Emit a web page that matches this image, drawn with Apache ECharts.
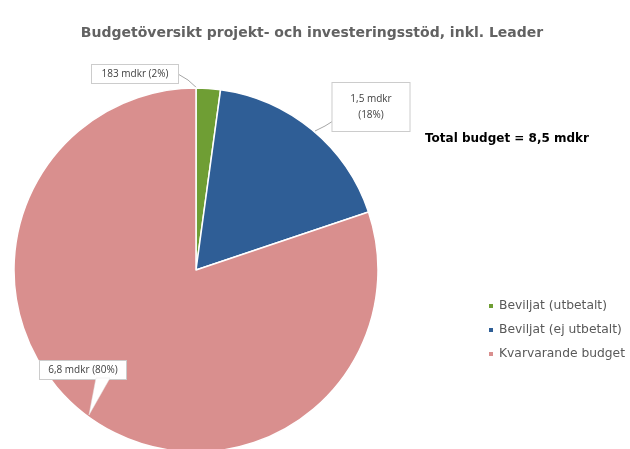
<!DOCTYPE html>
<html><head><meta charset="utf-8">
<script src="https://cdn.jsdelivr.net/npm/echarts@6/dist/echarts.min.js"></script>
<style>html,body{margin:0;padding:0;background:#fff}#c{width:630px;height:449px}</style>
</head><body><div id="c"></div>
<script>
var categories = ['Beviljat (utbetalt)', 'Beviljat (ej utbetalt)', 'Kvarvarande budget'];
var values = [0.183, 1.5, 6.8];
var labelTexts = ['183 mdkr (2%)', '1,5 mdkr\n(18%)', '6,8 mdkr (80%)'];
var colors = ['#6f9e34', '#2f5e96', '#d98f8e'];
var titleText = 'Budgetöversikt projekt- och investeringsstöd, inkl. Leader';
var totalText = 'Total budget = 8,5 mdkr';

var labelPos = [
  {x: 135, y: 74, w: 74, pad: [1, 6], line: [[178, 74], [188, 80], [198, 89]]},
  {x: 371, y: 107, w: 45, pad: [8, 16], line: [[333, 121], [325, 126], [315, 131]]},
  {x: 83, y: 370, w: 74, pad: [1, 6], line: null}
];

var chart = echarts.init(document.getElementById('c'), null, {renderer: 'canvas'});
chart.setOption({
  animation: false,
  color: colors,
  title: {
    text: titleText, left: 307, top: 21, textAlign: 'center',
    textStyle: {fontFamily: 'DejaVu Sans', fontSize: 14, fontWeight: 'bold', color: '#626262'}
  },
  graphic: [{
    type: 'text', left: 425, top: 133,
    style: {text: totalText, font: 'bold 12px "DejaVu Sans"', fill: '#000'}
  }, {
    type: 'polygon', z: 100,
    shape: {points: [[96, 378], [110, 378], [89, 415]]},
    style: {fill: '#ffffff', stroke: '#e6e6e6', lineWidth: 0.5}
  }],
  legend: {
    orient: 'vertical', left: 482, top: 295,
    itemWidth: 6, itemHeight: 6, itemGap: 12, icon: 'rect',
    data: categories,
    textStyle: {fontFamily: 'DejaVu Sans', fontSize: 12.3, color: '#595959', lineHeight: 12}
  },
  series: [{
    type: 'pie',
    center: [196, 270],
    radius: 182,
    startAngle: 90,
    clockwise: true,
    z: 2,
    itemStyle: {borderColor: '#fff', borderWidth: 1.5},
    data: categories.map(function (c, i) {
      return {name: c, value: values[i],
        label: {padding: labelPos[i].pad, width: labelPos[i].w},
        labelLine: {show: i !== 2, lineStyle: {color: '#a6a6a6', width: 1}}};
    }),
    label: {
      show: true,
      formatter: function (p) { return labelTexts[p.dataIndex]; },
      fontFamily: 'Open Sans', fontSize: 10, color: '#404040',
      backgroundColor: '#fff', borderColor: '#cccccc', borderWidth: 1,
      lineHeight: 16, align: 'center', overflow: 'none'
    },
    labelLine: {show: true, length: 10, length2: 10},
    labelLayout: function (p) {
      var l = labelPos[p.dataIndex];
      var r = {x: l.x, y: l.y, align: 'center', verticalAlign: 'middle', hideOverlap: false};
      if (l.line) r.labelLinePoints = l.line;
      return r;
    }
  }]
});
</script></body></html>
